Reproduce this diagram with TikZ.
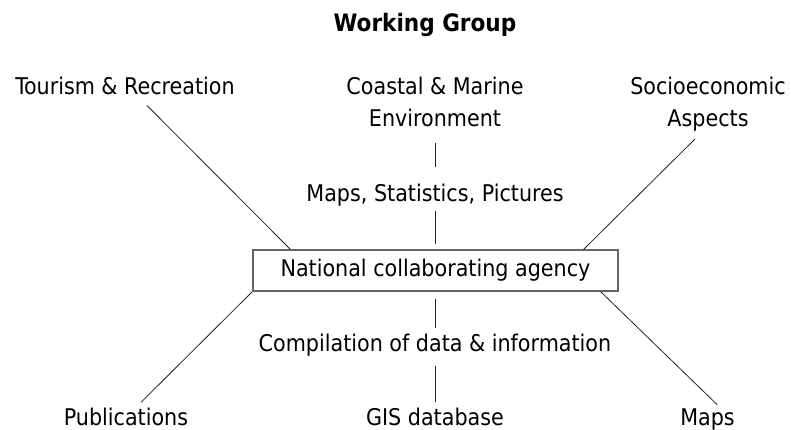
\documentclass[tikz,border=0pt]{standalone}
\usepackage{fontspec}
\setmainfont{DejaVu Sans Condensed}
\usepackage{xcolor}
\usepackage{tikz}
\usetikzlibrary{calc}
\definecolor{ink}{HTML}{000000}
\definecolor{frame}{HTML}{666666}
\definecolor{wire}{HTML}{222222}
\tikzset{
  txt/.style={inner sep=0pt, anchor=base, text=ink, font=\fontsize{23}{32}\selectfont, align=center},
  head/.style={txt, font=\fontsize{24}{32}\selectfont\bfseries},
  agency/.style={draw=frame, line width=1.3pt, fill=white, minimum width=365pt, minimum height=41pt,
    inner sep=0pt, text=ink, font=\fontsize{23}{32}\selectfont},
  link/.style={draw=wire, line width=0.8pt}
}

\begin{document}
\begin{tikzpicture}[x=1pt,y=-1pt]
  \useasboundingbox (0,0) rectangle (791,430);
  \node[head] (wg) at (425,32) {Working Group};
  \node[txt] (tour) at (125,95) {Tourism \& Recreation};
  \node[txt] (coast) at (435,95) {Coastal \& Marine};
  \node[txt] (env) at (435,127) {Environment};
  \node[txt] (soc) at (708,95) {Socioeconomic};
  \node[txt] (asp) at (708,127) {Aspects};
  \node[txt] (msp) at (435,202) {Maps, Statistics, Pictures};
  \node[agency] (box) at (435.5,270.5) {National collaborating agency};
  \node[txt] (comp) at (435,351) {Compilation of data \& information};
  \node[txt] (pub) at (126,425) {Publications};
  \node[txt] (gis) at (435,425) {GIS database};
  \node[txt] (maps) at (707.5,425) {Maps};
  % upper branches
  \draw[link] ([xshift=22pt,yshift=-10pt]tour.south) -- ([xshift=38pt]box.north west);
  \draw[link] ([xshift=-13pt,yshift=-7pt]asp.south) -- ([xshift=-35pt]box.north east);
  \draw[link] ([yshift=-15pt]env.south) -- ([yshift=17pt]msp.north);
  \draw[link] ([yshift=-4.5pt]msp.south) -- ([xshift=-0.5pt,yshift=5pt]box.north);
  % lower branches
  \draw[link] (box.south west) -- ([xshift=15pt,yshift=5pt]pub.north);
  \draw[link] ([xshift=-18pt]box.south east) -- ([xshift=9.5pt,yshift=3.5pt]maps.north);
  \draw[link] ([xshift=-0.5pt,yshift=-7pt]box.south) -- ([yshift=5.5pt]comp.north);
  \draw[link] ([yshift=-10.5pt]comp.south) -- ([yshift=5.5pt]gis.north);
\end{tikzpicture}
\end{document}
